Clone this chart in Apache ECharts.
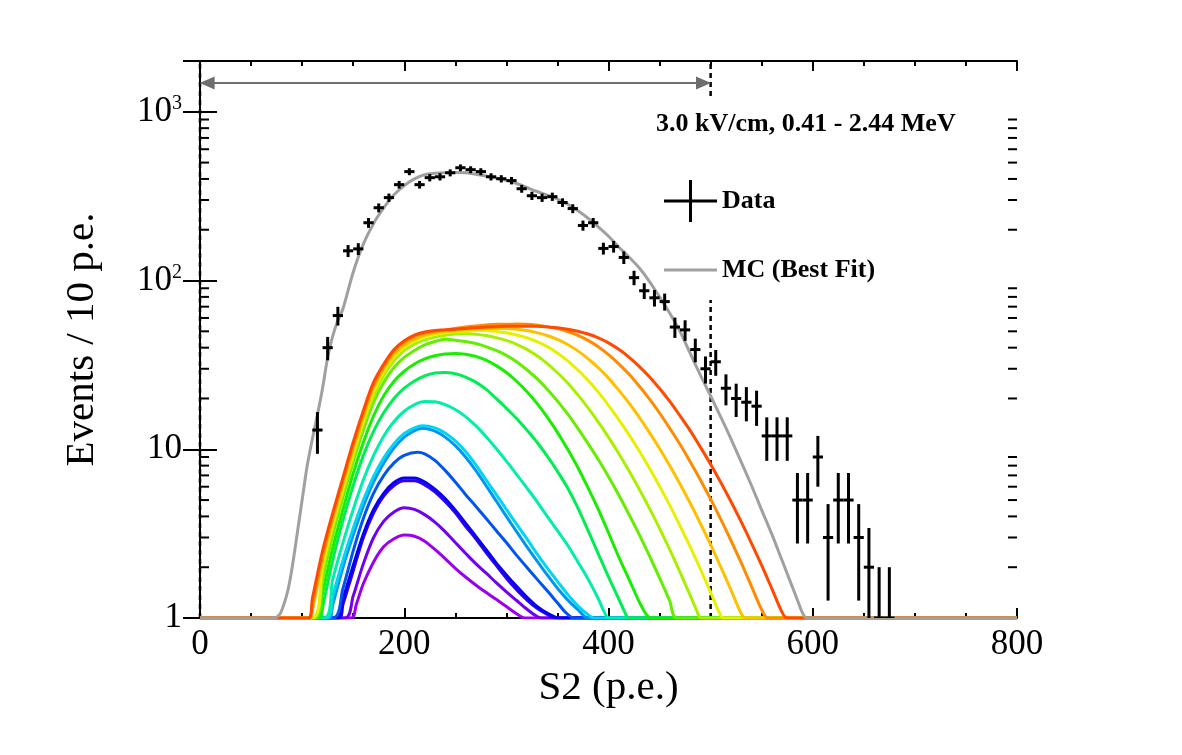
<!DOCTYPE html>
<html>
<head>
<meta charset="utf-8" />
<title>S2 spectrum, 3.0 kV/cm</title>
<script src="https://cdn.jsdelivr.net/npm/echarts@6/dist/echarts.min.js"></script>
<style>
  html, body { margin: 0; padding: 0; background: #fff; }
  #main { width: 1182px; height: 755px; }
</style>
</head>
<body>
<div id="main"></div>
<script>
// ---- data ----
var binCenters = [115, 125, 135, 145, 155, 165, 175, 185, 195, 205, 215, 225, 235, 245, 255, 265, 275, 285, 295, 305,
  315, 325, 335, 345, 355, 365, 375, 385, 395, 405, 415, 425, 435, 445, 455, 465, 475, 485, 495, 505,
  515, 525, 535, 545, 555, 565, 575, 585, 595, 605, 615, 625, 635, 645, 655, 665, 675];
var counts = [13, 40, 62, 150, 154, 220, 270, 310, 370, 442, 370, 407, 412, 435, 466, 454, 442, 412, 401, 391,
  350, 318, 310, 314, 290, 267, 212, 220, 155, 159, 137, 104, 87, 79, 75, 53, 51, 39, 30, 33,
  23, 20, 19, 18, 12, 12, 12, 5, 5, 9, 3, 5, 5, 3, 2, 1, 1];

// MC best fit, [S2, events]
var mcBestFit = [[0, 1], [72, 1], [78, 1.05], [82, 1.2], [86, 1.45], [90, 1.95], [95, 3.1], [100, 5.0], [105, 8.0],
  [110, 11.5], [115, 16], [120, 23], [125, 35], [130, 47], [135, 58], [140, 68], [150, 112], [160, 165], [170, 218],
  [180, 270], [190, 322], [200, 365], [210, 400], [220, 424], [230, 432], [240, 436], [250, 437], [260, 435],
  [270, 427], [280, 416], [290, 405], [300, 393], [310, 376], [320, 356], [330, 337], [340, 321], [350, 304],
  [360, 283], [370, 259], [380, 234], [390, 208], [400, 183], [410, 158], [420, 138], [430, 119], [440, 99],
  [450, 80], [460, 64], [470, 50], [480, 37], [490, 27.5], [500, 20.7], [510, 15.5], [520, 11.5], [530, 8.4],
  [540, 6.1], [550, 4.36], [560, 3.13], [570, 2.19], [580, 1.53], [586, 1.23], [590, 1.07], [594, 1], [800, 1]];

// MC components (purple -> red), [S2, events]
var comp01 = [[0, 1], [148, 1], [153, 1.2], [160, 1.6], [170, 2.15], [180, 2.65], [190, 2.95], [200, 3.1], [210, 3.05],
  [220, 2.85], [230, 2.55], [240, 2.25], [250, 1.97], [260, 1.75], [270, 1.57], [280, 1.42], [290, 1.29], [300, 1.17],
  [310, 1.06], [318, 1], [800, 1]];
var comp02 = [[0, 1], [142, 1], [150, 1.35], [160, 2.1], [170, 3.0], [180, 3.75], [190, 4.25], [200, 4.5], [210, 4.4],
  [220, 4.1], [230, 3.7], [240, 3.25], [250, 2.8], [260, 2.42], [270, 2.1], [280, 1.85], [290, 1.62], [300, 1.43],
  [310, 1.27], [320, 1.13], [328, 1.04], [334, 1], [800, 1]];
var comp03 = [[0, 1], [136, 1], [140, 1.2], [150, 1.9], [160, 3.0], [170, 4.2], [180, 5.3], [190, 6.1], [200, 6.5],
  [210, 6.5], [220, 6.15], [230, 5.6], [240, 4.9], [250, 4.2], [260, 3.5], [270, 2.95], [280, 2.45], [290, 2.05],
  [300, 1.72], [310, 1.47], [320, 1.28], [330, 1.14], [340, 1.05], [348, 1], [800, 1]];
var comp04 = [[0, 1], [134, 1], [140, 1.3], [150, 2.05], [160, 3.15], [170, 4.4], [180, 5.5], [190, 6.35], [200, 6.75],
  [210, 6.75], [220, 6.4], [230, 5.8], [240, 5.1], [250, 4.35], [260, 3.65], [270, 3.05], [280, 2.55], [290, 2.12],
  [300, 1.8], [310, 1.54], [320, 1.33], [330, 1.17], [340, 1.07], [352, 1], [800, 1]];
var comp05 = [[0, 1], [130, 1], [140, 1.5], [150, 2.5], [160, 3.9], [170, 5.5], [180, 7.0], [190, 8.3], [200, 9.2],
  [213, 9.6], [220, 9.4], [230, 8.6], [240, 7.5], [250, 6.4], [260, 5.4], [270, 4.6], [280, 3.9], [290, 3.3],
  [300, 2.8], [310, 2.35], [320, 2.0], [330, 1.7], [340, 1.45], [350, 1.23], [358, 1.08], [366, 1], [800, 1]];
var comp06 = [[0, 1], [126, 1], [130, 1.2], [140, 2.0], [150, 3.1], [160, 4.6], [170, 6.4], [180, 8.3], [190, 10.2],
  [200, 11.8], [210, 12.9], [218, 13.3], [230, 12.8], [240, 11.8], [250, 10.5], [260, 9.0], [270, 7.5], [280, 6.1],
  [290, 4.95], [300, 4.0], [310, 3.25], [320, 2.65], [330, 2.18], [340, 1.8], [350, 1.5], [360, 1.28], [370, 1.12],
  [380, 1], [800, 1]];
var comp07 = [[0, 1], [124, 1], [130, 1.35], [140, 2.2], [150, 3.4], [160, 5.0], [170, 6.9], [180, 8.9], [190, 10.8],
  [200, 12.4], [210, 13.4], [218, 13.8], [230, 13.4], [240, 12.5], [250, 11.2], [260, 9.7], [270, 8.1], [280, 6.6],
  [290, 5.4], [300, 4.4], [310, 3.6], [320, 2.95], [330, 2.4], [340, 1.98], [350, 1.65], [360, 1.38], [370, 1.18],
  [378, 1.07], [386, 1], [800, 1]];
var comp08 = [[0, 1], [121, 1], [130, 1.7], [140, 2.8], [150, 4.4], [160, 6.6], [170, 9.2], [180, 12], [190, 14.6],
  [200, 16.8], [210, 18.4], [220, 19.2], [230, 19.1], [240, 18.4], [250, 17.2], [260, 15.6], [270, 13.8], [280, 11.9],
  [290, 10.1], [300, 8.5], [310, 7.1], [320, 5.9], [330, 4.9], [340, 4.0], [350, 3.3], [360, 2.7], [370, 2.15],
  [380, 1.7], [390, 1.3], [396, 1.08], [400, 1], [800, 1]];
var comp09 = [[0, 1], [118, 1], [120, 1.15], [130, 2.2], [140, 3.8], [150, 6.1], [160, 9.2], [170, 12.8], [180, 16.5],
  [190, 20], [200, 23], [210, 25.4], [220, 27.2], [230, 28.3], [240, 28.5], [250, 28], [260, 26.8], [270, 25],
  [280, 22.7], [290, 20], [300, 17.5], [310, 15.2], [320, 13], [330, 11], [340, 9.1], [350, 7.4], [360, 5.9],
  [370, 4.5], [380, 3.3], [390, 2.4], [400, 1.75], [410, 1.3], [416, 1.08], [420, 1], [800, 1]];
var comp10 = [[0, 1], [115, 1], [120, 1.4], [130, 2.6], [140, 4.4], [150, 7.2], [160, 11], [170, 15.8], [180, 20.8],
  [190, 25.3], [200, 29], [210, 32], [220, 34.3], [230, 35.8], [240, 36.7], [250, 37], [260, 36.6], [270, 35.5],
  [280, 33.7], [290, 31.3], [300, 28.5], [310, 25.3], [320, 22], [330, 18.7], [340, 15.5], [350, 12.6], [360, 10],
  [370, 7.8], [380, 5.9], [390, 4.4], [400, 3.2], [410, 2.3], [420, 1.7], [430, 1.25], [437, 1.05], [442, 1], [800, 1]];
var comp11 = [[0, 1], [112, 1], [120, 1.7], [130, 3.1], [140, 5.2], [150, 8.4], [160, 13], [170, 19], [180, 25],
  [190, 30.5], [200, 35], [210, 38.5], [220, 41.5], [230, 43.5], [240, 44.8], [250, 44.3], [260, 43.5], [270, 42.3],
  [280, 40.6], [290, 38.5], [300, 36.0], [310, 33.0], [320, 29.6], [330, 26.2], [340, 22.7], [350, 19.3], [360, 16.2],
  [370, 13.3], [380, 10.8], [390, 8.69], [400, 6.87], [410, 5.36], [420, 4.12], [430, 3.13], [440, 2.34], [450, 1.73],
  [460, 1.26], [467, 1], [800, 1]];
var comp12 = [[0, 1], [110, 1], [120, 1.9], [130, 3.4], [140, 5.6], [150, 9], [160, 14], [170, 20.8], [180, 27.5],
  [190, 33.5], [200, 38.5], [210, 42], [220, 44.5], [230, 46.2], [240, 47.4], [250, 48.2], [260, 48.6], [270, 48.1],
  [280, 47.2], [290, 45.9], [300, 44.2], [310, 41.9], [320, 39.1], [330, 35.8], [340, 32.2], [350, 28.4], [360, 24.7],
  [370, 21.0], [380, 17.6], [390, 14.5], [400, 11.8], [410, 9.44], [420, 7.46], [430, 5.82], [440, 4.48], [450, 3.40],
  [460, 2.54], [470, 1.87], [480, 1.36], [486, 1.12], [491, 1], [800, 1]];
var comp13 = [[0, 1], [109, 1], [120, 2.05], [130, 3.6], [140, 5.9], [150, 9.5], [160, 14.8], [170, 22], [180, 29],
  [190, 35.5], [200, 40.5], [210, 44], [220, 46.5], [230, 48], [240, 49], [250, 49.8], [260, 50.2], [270, 50.5],
  [280, 50.5], [290, 49.9], [300, 49.0], [310, 47.6], [320, 45.8], [330, 43.4], [340, 40.6], [350, 37.2], [360, 33.4],
  [370, 29.5], [380, 25.6], [390, 21.8], [400, 18.2], [410, 15.0], [420, 12.2], [430, 9.79], [440, 7.74], [450, 6.04],
  [460, 4.65], [470, 3.52], [480, 2.64], [490, 1.95], [500, 1.42], [510, 1.03], [513, 1], [800, 1]];
var comp14 = [[0, 1], [108, 1], [110, 1.1], [120, 2.2], [130, 3.8], [140, 6.2], [150, 10], [160, 15.5], [170, 23],
  [180, 30], [190, 36.5], [200, 41.5], [210, 45], [220, 47.5], [230, 49], [240, 50], [250, 50.8], [260, 51.3],
  [270, 51.7], [280, 52], [290, 52], [300, 52], [310, 51.4], [320, 50.5], [330, 49.1], [340, 47.2], [350, 44.8],
  [360, 41.8], [370, 38.3], [380, 34.4], [390, 30.4], [400, 26.4], [410, 22.4], [420, 18.8], [430, 15.5], [440, 12.6],
  [450, 10.1], [460, 7.98], [470, 6.22], [480, 4.79], [490, 3.63], [500, 2.72], [510, 2.0], [520, 1.46], [530, 1.06],
  [534, 1], [800, 1]];
var comp15 = [[0, 1], [107, 1], [110, 1.2], [120, 2.35], [130, 4.0], [140, 6.5], [150, 10.5], [160, 16.3], [170, 24],
  [180, 31], [190, 38], [200, 43], [210, 46.5], [220, 48.8], [230, 50], [240, 51], [250, 52], [260, 53], [270, 53.8],
  [280, 54.5], [290, 55], [300, 55], [310, 55.2], [320, 55], [330, 54.3], [340, 53.3], [350, 51.9], [360, 49.9],
  [370, 47.3], [380, 44.2], [390, 40.5], [400, 36.4], [410, 32.1], [420, 27.9], [430, 23.7], [440, 19.9], [450, 16.4],
  [460, 13.3], [470, 10.7], [480, 8.43], [490, 6.58], [500, 5.06], [510, 3.84], [520, 2.87], [530, 2.12], [540, 1.54],
  [550, 1.12], [556, 1], [800, 1]];
var comp16 = [[0, 1], [106, 1], [110, 1.3], [120, 2.5], [130, 4.2], [140, 6.8], [150, 11], [160, 17], [170, 25],
  [180, 32], [190, 39], [200, 44], [210, 47.5], [220, 49.5], [230, 50.5], [240, 51], [250, 51.5], [260, 52],
  [270, 52.5], [280, 53], [290, 53.3], [300, 53.5], [310, 53.5], [320, 53.5], [330, 53.5], [340, 53.1], [350, 52.5],
  [360, 51.5], [370, 50.1], [380, 48.2], [390, 45.7], [400, 42.7], [410, 39.1], [420, 35.2], [430, 31.0], [440, 26.9],
  [450, 22.9], [460, 19.2], [470, 15.8], [480, 12.9], [490, 10.3], [500, 8.15], [510, 6.35], [520, 4.89], [530, 3.71],
  [540, 2.77], [550, 2.05], [560, 1.49], [570, 1.08], [575, 1], [800, 1]];

var components = [comp01, comp02, comp03, comp04, comp05, comp06, comp07, comp08,
  comp09, comp10, comp11, comp12, comp13, comp14, comp15, comp16];
var compColors = ['#9a00ee', '#7000ee', '#3300ee', '#0800f0', '#0055f0', '#0095f0', '#00d5f5', '#00eeaa',
  '#00ee55', '#1aee00', '#66ee00', '#a8f000', '#e8f000', '#ffc000', '#ff8c00', '#ff4a00'];

var xTicks = [0, 200, 400, 600, 800];
var yMinorTicks = [2, 3, 4, 5, 6, 7, 8, 9, 20, 30, 40, 50, 60, 70, 80, 90, 200, 300, 400, 500, 600, 700, 800, 900];
var cutS2 = 500;
var arrowLevel = 1480;

// ---- chart ----
var FONT = "'Liberation Serif', 'DejaVu Serif', serif";
var chart = echarts.init(document.getElementById('main'));

function yLabel(v) {
  var r = Math.round(v);
  if (r === 1) return '1';
  if (r === 10) return '10';
  return '10{sup|' + Math.round(Math.log10(r)) + '}';
}

var series = [];

// cut lines (dashed) + range arrow
series.push({
  type: 'line', z: 1, silent: true, symbol: 'none',
  data: [[0, 1], [0, 2000]],
  lineStyle: { color: '#000', width: 2.5, type: [5, 4] },
  markLine: {
    silent: true, symbol: ['triangle', 'triangle'], symbolSize: [13, 15],
    label: { show: false },
    lineStyle: { color: '#6e6e6e', width: 2, type: 'solid' },
    data: [[{ coord: [7, arrowLevel] }, { coord: [cutS2 - 7, arrowLevel] }]]
  }
});
series.push({
  type: 'line', z: 1, silent: true, symbol: 'none',
  data: [[cutS2, 1], [cutS2, 2000]],
  lineStyle: { color: '#000', width: 2.5, type: [5, 4] }
});

components.forEach(function (c, i) {
  series.push({
    type: 'line', z: 3, symbol: 'none', smooth: 0.3, silent: true,
    data: c,
    lineStyle: { color: compColors[i], width: 3 }
  });
});

series.push({
  name: 'MC (Best Fit)', type: 'line', z: 4, symbol: 'none', smooth: 0.3,
  data: mcBestFit,
  itemStyle: { color: '#a0a0a0' },
  lineStyle: { color: '#a0a0a0', width: 3 }
});

series.push({
  name: 'Data', type: 'custom', z: 5, clip: true,
  itemStyle: { color: '#000' },
  data: binCenters.map(function (x, i) { return [x, counts[i]]; }),
  renderItem: function (params, api) {
    var x = api.value(0), n = api.value(1);
    var e = Math.sqrt(n);
    var top = api.coord([x, n + e]);
    var bot = api.coord([x, Math.max(n - e, 1)]);
    var l = api.coord([x - 5, n]);
    var r = api.coord([x + 5, n]);
    var st = { stroke: '#000', lineWidth: 3 };
    return {
      type: 'group',
      children: [
        { type: 'line', shape: { x1: top[0], y1: top[1], x2: bot[0], y2: bot[1] }, style: st },
        { type: 'line', shape: { x1: l[0], y1: l[1], x2: r[0], y2: r[1] }, style: st }
      ]
    };
  }
});

// minor ticks of the log axis, left and right frame
series.push({
  type: 'custom', z: 6, silent: true,
  data: yMinorTicks.map(function (v) { return [0, v]; }),
  renderItem: function (params, api) {
    var v = api.value(1);
    var a = api.coord([0, v]);
    var b = api.coord([800, v]);
    var st = { stroke: '#000', lineWidth: 2 };
    return {
      type: 'group',
      children: [
        { type: 'line', shape: { x1: a[0], y1: a[1], x2: a[0] + 9, y2: a[1] }, style: st },
        { type: 'line', shape: { x1: b[0] - 9, y1: b[1], x2: b[0], y2: b[1] }, style: st }
      ]
    };
  }
});

var axisLine = { show: true, lineStyle: { color: '#000', width: 2 } };

var option = {
  backgroundColor: '#fff',
  animation: false,
  grid: { left: 200, right: 165, top: 61, bottom: 137 },
  title: {
    text: '3.0 kV/cm, 0.41 - 2.44 MeV',
    left: 656, top: 111, padding: 0,
    textStyle: { fontFamily: FONT, fontWeight: 'bold', fontSize: 26, color: '#000' }
  },
  legend: {
    left: 659, top: 175, orient: 'vertical',
    itemWidth: 53, itemHeight: 42, itemGap: 27,
    selectedMode: false,
    textStyle: { fontFamily: FONT, fontWeight: 'bold', fontSize: 26, color: '#000' },
    data: [
      { name: 'Data', icon: 'path://M0,19.5h53v3h-53z M25,0h3v42h-3z' },
      { name: 'MC (Best Fit)', icon: 'path://M0,0L0,0 M53,42L53,42 M0,19.5h53v3h-53z' }
    ]
  },
  graphic: [{
    type: 'rect', z: 2, silent: true,
    shape: { x: 648, y: 97, width: 357, height: 203 },
    style: { fill: '#fff' }
  }],
  xAxis: [{
    type: 'value', min: xTicks[0], max: xTicks[xTicks.length - 1], interval: 200, position: 'bottom',
    axisLine: axisLine,
    axisTick: { inside: true, length: 10, lineStyle: { color: '#000', width: 2 } },
    minorTick: { show: true, splitNumber: 4, length: 5, lineStyle: { color: '#000', width: 2 } },
    splitLine: { show: false },
    axisLabel: { fontFamily: FONT, fontSize: 35, color: '#000', margin: 9 },
    name: 'S2 (p.e.)', nameLocation: 'middle', nameGap: 50,
    nameTextStyle: { fontFamily: FONT, fontSize: 41, color: '#000' }
  }, {
    type: 'value', min: xTicks[0], max: xTicks[xTicks.length - 1], interval: 200, position: 'top',
    axisLine: axisLine,
    axisTick: { inside: true, length: 10, lineStyle: { color: '#000', width: 2 } },
    minorTick: { show: true, splitNumber: 4, length: 5, lineStyle: { color: '#000', width: 2 } },
    splitLine: { show: false },
    axisLabel: { show: false }
  }],
  yAxis: [{
    type: 'log', logBase: 10, min: 1, max: 2000, position: 'left',
    axisLine: axisLine,
    axisTick: { inside: true, length: 17, lineStyle: { color: '#000', width: 2 } },
    splitLine: { show: false },
    axisLabel: {
      fontFamily: FONT, fontSize: 35, color: '#000', margin: 18, showMaxLabel: false,
      formatter: yLabel,
      rich: { sup: { fontFamily: FONT, fontSize: 20, color: '#000', verticalAlign: 'bottom', padding: [0, 0, 16, 0] } }
    },
    name: 'Events / 10 p.e.', nameLocation: 'middle', nameGap: 97,
    nameTextStyle: { fontFamily: FONT, fontSize: 41, color: '#000' }
  }, {
    type: 'log', logBase: 10, min: 1, max: 2000, position: 'right',
    axisLine: axisLine,
    axisTick: { inside: true, length: 17, lineStyle: { color: '#000', width: 2 } },
    splitLine: { show: false },
    axisLabel: { show: false }
  }],
  series: series
};

chart.setOption(option);
</script>
</body>
</html>
